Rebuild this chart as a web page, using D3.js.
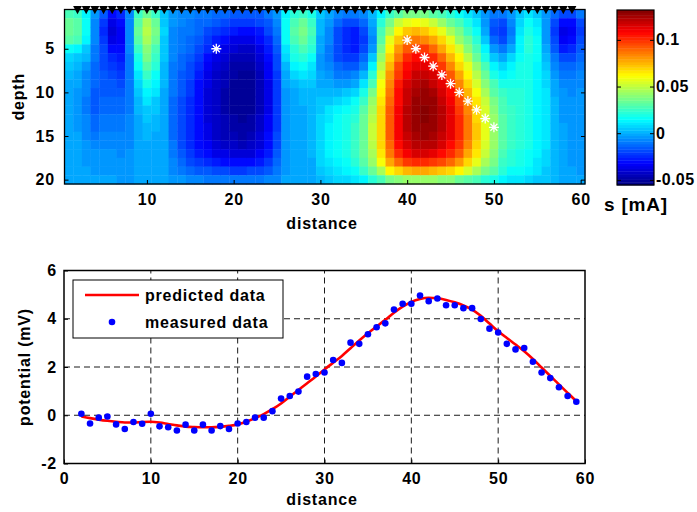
<!DOCTYPE html>
<html>
<head>
<meta charset="utf-8">
<script src="https://cdn.jsdelivr.net/npm/d3@7"></script>
<style>
  body { margin: 0; background: #fff; }
  text { font-family: "Liberation Sans", Arial, Helvetica, sans-serif; font-weight: bold; fill: #000; letter-spacing: 0.8px; }
</style>
</head>
<body>
<svg id="chart" width="697" height="512"></svg>
<script>
// ---- inverted source model: s [mA] on a 60 x 20 grid (one array per distance column, depth 1..20) ----
const cellDistances = d3.range(1, 61);
const cellDepths = d3.range(1, 21);
const sByColumn = [
  [0.028,0.033,0.034,0.032,0.016,0.008,0.004,0.001,0.0,-0.001,-0.001,-0.002,-0.002,-0.002,-0.002,-0.001,-0.001,0.0,0.0,0.0],
  [0.026,0.031,0.032,0.029,0.014,0.006,0.002,0.0,-0.002,-0.003,-0.003,-0.003,-0.003,-0.003,-0.002,-0.002,-0.001,-0.001,0.0,0.0],
  [0.012,0.016,0.017,0.014,0.006,0.001,-0.003,-0.006,-0.008,-0.008,-0.009,-0.009,-0.008,-0.007,-0.006,-0.005,-0.004,-0.003,-0.002,-0.002],
  [-0.004,-0.006,-0.007,-0.008,-0.01,-0.011,-0.012,-0.013,-0.014,-0.015,-0.015,-0.015,-0.014,-0.012,-0.009,-0.007,-0.005,-0.004,-0.003,-0.002],
  [-0.016,-0.022,-0.024,-0.023,-0.02,-0.019,-0.018,-0.017,-0.016,-0.015,-0.013,-0.012,-0.011,-0.01,-0.008,-0.007,-0.005,-0.004,-0.003,-0.002],
  [-0.03,-0.037,-0.038,-0.036,-0.03,-0.026,-0.022,-0.019,-0.017,-0.015,-0.013,-0.012,-0.011,-0.01,-0.008,-0.007,-0.005,-0.004,-0.003,-0.002],
  [-0.026,-0.032,-0.034,-0.033,-0.03,-0.027,-0.024,-0.021,-0.018,-0.016,-0.014,-0.012,-0.011,-0.01,-0.008,-0.007,-0.006,-0.005,-0.004,-0.003],
  [-0.006,-0.007,-0.006,-0.006,-0.008,-0.009,-0.01,-0.01,-0.01,-0.01,-0.009,-0.009,-0.008,-0.008,-0.007,-0.006,-0.005,-0.004,-0.003,-0.003],
  [0.024,0.032,0.034,0.031,0.025,0.02,0.016,0.011,0.007,0.004,0.002,0.001,0.0,-0.001,-0.001,-0.001,-0.001,-0.001,-0.001,-0.001],
  [0.034,0.046,0.049,0.047,0.041,0.036,0.03,0.025,0.019,0.014,0.009,0.006,0.004,0.002,0.001,0.0,0.0,0.0,0.0,0.0],
  [0.026,0.034,0.036,0.034,0.029,0.025,0.021,0.017,0.013,0.009,0.006,0.004,0.002,0.001,0.0,0.0,0.0,0.0,0.0,0.0],
  [0.004,0.006,0.007,0.006,0.005,0.004,0.003,0.002,0.001,0.0,-0.001,-0.001,-0.002,-0.002,-0.002,-0.002,-0.002,-0.002,-0.001,-0.001],
  [-0.004,-0.005,-0.006,-0.006,-0.007,-0.008,-0.009,-0.01,-0.011,-0.011,-0.012,-0.012,-0.012,-0.012,-0.012,-0.011,-0.01,-0.008,-0.006,-0.004],
  [-0.006,-0.008,-0.009,-0.01,-0.011,-0.012,-0.013,-0.015,-0.016,-0.017,-0.018,-0.018,-0.019,-0.019,-0.019,-0.018,-0.016,-0.013,-0.009,-0.005],
  [-0.008,-0.01,-0.011,-0.012,-0.014,-0.016,-0.018,-0.02,-0.022,-0.023,-0.024,-0.025,-0.025,-0.025,-0.025,-0.024,-0.022,-0.018,-0.012,-0.006],
  [-0.01,-0.012,-0.014,-0.017,-0.02,-0.023,-0.026,-0.028,-0.03,-0.031,-0.032,-0.032,-0.032,-0.032,-0.031,-0.03,-0.027,-0.022,-0.015,-0.008],
  [-0.011,-0.014,-0.018,-0.022,-0.026,-0.03,-0.033,-0.035,-0.037,-0.038,-0.038,-0.038,-0.038,-0.037,-0.036,-0.034,-0.031,-0.025,-0.017,-0.009],
  [-0.012,-0.016,-0.022,-0.027,-0.032,-0.036,-0.039,-0.041,-0.042,-0.043,-0.043,-0.043,-0.043,-0.042,-0.041,-0.039,-0.035,-0.028,-0.019,-0.01],
  [-0.014,-0.019,-0.026,-0.032,-0.036,-0.04,-0.043,-0.045,-0.046,-0.047,-0.047,-0.047,-0.046,-0.045,-0.044,-0.041,-0.037,-0.03,-0.02,-0.011],
  [-0.016,-0.021,-0.029,-0.035,-0.04,-0.044,-0.047,-0.049,-0.05,-0.05,-0.05,-0.05,-0.049,-0.048,-0.046,-0.043,-0.038,-0.031,-0.021,-0.011],
  [-0.017,-0.022,-0.03,-0.037,-0.042,-0.046,-0.049,-0.051,-0.052,-0.052,-0.052,-0.051,-0.05,-0.049,-0.047,-0.044,-0.039,-0.031,-0.021,-0.011],
  [-0.017,-0.022,-0.03,-0.036,-0.041,-0.045,-0.048,-0.05,-0.051,-0.051,-0.051,-0.05,-0.049,-0.048,-0.046,-0.043,-0.038,-0.03,-0.02,-0.011],
  [-0.015,-0.02,-0.027,-0.032,-0.036,-0.039,-0.042,-0.044,-0.045,-0.045,-0.045,-0.044,-0.043,-0.042,-0.04,-0.038,-0.034,-0.027,-0.018,-0.01],
  [-0.011,-0.015,-0.02,-0.025,-0.028,-0.031,-0.033,-0.034,-0.035,-0.035,-0.035,-0.035,-0.034,-0.033,-0.032,-0.03,-0.027,-0.022,-0.015,-0.008],
  [-0.003,-0.006,-0.01,-0.014,-0.017,-0.019,-0.02,-0.021,-0.022,-0.022,-0.022,-0.022,-0.022,-0.021,-0.02,-0.019,-0.017,-0.014,-0.01,-0.006],
  [0.012,0.016,0.017,0.015,0.011,0.007,0.003,0.0,-0.002,-0.004,-0.005,-0.005,-0.005,-0.005,-0.005,-0.005,-0.004,-0.004,-0.003,-0.002],
  [0.022,0.028,0.03,0.028,0.023,0.018,0.012,0.007,0.003,0.0,-0.001,-0.002,-0.002,-0.002,-0.002,-0.002,-0.002,-0.002,-0.001,-0.001],
  [0.026,0.034,0.036,0.034,0.028,0.022,0.016,0.01,0.006,0.003,0.001,0.0,0.0,0.0,0.0,0.0,0.0,0.0,0.0,0.0],
  [0.02,0.026,0.028,0.026,0.021,0.016,0.011,0.007,0.004,0.002,0.001,0.001,0.001,0.001,0.001,0.001,0.001,0.0,0.0,0.0],
  [0.004,0.003,0.002,0.0,-0.002,-0.003,-0.003,-0.002,0.0,0.002,0.004,0.006,0.007,0.008,0.008,0.008,0.008,0.007,0.005,0.003],
  [0.0,-0.003,-0.006,-0.008,-0.009,-0.009,-0.008,-0.005,-0.002,0.002,0.006,0.009,0.011,0.012,0.012,0.012,0.012,0.011,0.008,0.005],
  [-0.008,-0.013,-0.018,-0.02,-0.02,-0.018,-0.014,-0.009,-0.003,0.003,0.008,0.012,0.015,0.016,0.017,0.017,0.016,0.014,0.011,0.007],
  [-0.01,-0.018,-0.024,-0.026,-0.025,-0.021,-0.016,-0.01,-0.003,0.004,0.01,0.015,0.018,0.019,0.02,0.02,0.019,0.017,0.013,0.008],
  [-0.01,-0.02,-0.027,-0.029,-0.027,-0.022,-0.016,-0.008,0.0,0.008,0.015,0.02,0.023,0.024,0.025,0.025,0.024,0.022,0.017,0.01],
  [-0.006,-0.013,-0.019,-0.021,-0.019,-0.013,-0.006,0.003,0.011,0.019,0.026,0.031,0.033,0.034,0.034,0.034,0.033,0.03,0.024,0.014],
  [0.002,-0.002,-0.005,-0.006,-0.003,0.004,0.012,0.021,0.029,0.037,0.043,0.047,0.049,0.05,0.05,0.049,0.047,0.043,0.035,0.021],
  [0.014,0.022,0.027,0.032,0.037,0.042,0.048,0.054,0.059,0.063,0.066,0.068,0.069,0.069,0.069,0.068,0.065,0.059,0.047,0.028],
  [0.024,0.038,0.047,0.056,0.063,0.07,0.076,0.081,0.085,0.088,0.09,0.091,0.092,0.092,0.092,0.09,0.086,0.077,0.062,0.036],
  [0.032,0.05,0.063,0.073,0.081,0.088,0.094,0.099,0.103,0.106,0.108,0.109,0.11,0.11,0.109,0.107,0.101,0.09,0.07,0.04],
  [0.037,0.057,0.071,0.083,0.093,0.1,0.106,0.111,0.115,0.118,0.12,0.121,0.121,0.121,0.12,0.117,0.11,0.097,0.075,0.043],
  [0.038,0.059,0.075,0.088,0.098,0.106,0.113,0.118,0.122,0.125,0.127,0.128,0.128,0.128,0.126,0.122,0.115,0.1,0.077,0.044],
  [0.036,0.056,0.072,0.085,0.097,0.106,0.113,0.119,0.124,0.127,0.129,0.13,0.13,0.129,0.127,0.123,0.115,0.1,0.077,0.044],
  [0.032,0.05,0.065,0.078,0.09,0.1,0.108,0.115,0.12,0.124,0.127,0.128,0.128,0.127,0.125,0.121,0.113,0.099,0.076,0.043],
  [0.027,0.043,0.056,0.068,0.079,0.089,0.098,0.106,0.112,0.117,0.12,0.122,0.123,0.122,0.12,0.116,0.108,0.095,0.073,0.041],
  [0.022,0.035,0.046,0.056,0.066,0.076,0.085,0.093,0.1,0.106,0.11,0.113,0.114,0.114,0.112,0.108,0.101,0.089,0.069,0.039],
  [0.016,0.027,0.036,0.044,0.053,0.062,0.07,0.078,0.085,0.091,0.096,0.099,0.1,0.101,0.1,0.097,0.091,0.08,0.062,0.035],
  [0.011,0.019,0.026,0.033,0.04,0.048,0.056,0.063,0.07,0.076,0.081,0.084,0.086,0.087,0.086,0.084,0.079,0.07,0.055,0.031],
  [0.005,0.01,0.015,0.021,0.028,0.035,0.042,0.049,0.055,0.061,0.065,0.068,0.07,0.071,0.071,0.069,0.065,0.058,0.046,0.027],
  [-0.004,-0.004,-0.002,0.004,0.012,0.02,0.027,0.034,0.04,0.046,0.05,0.053,0.055,0.056,0.056,0.055,0.052,0.047,0.038,0.022],
  [-0.01,-0.016,-0.018,-0.014,-0.005,0.004,0.012,0.02,0.027,0.032,0.037,0.04,0.042,0.043,0.043,0.042,0.04,0.036,0.03,0.018],
  [-0.01,-0.018,-0.021,-0.018,-0.009,0.0,0.008,0.014,0.02,0.024,0.027,0.029,0.03,0.031,0.031,0.03,0.029,0.026,0.022,0.013],
  [-0.003,-0.008,-0.01,-0.007,0.0,0.007,0.012,0.016,0.019,0.021,0.023,0.024,0.025,0.025,0.025,0.024,0.023,0.021,0.017,0.01],
  [0.005,0.008,0.01,0.012,0.014,0.016,0.018,0.019,0.02,0.021,0.022,0.022,0.022,0.022,0.022,0.021,0.02,0.018,0.015,0.009],
  [0.01,0.015,0.019,0.021,0.021,0.02,0.02,0.019,0.019,0.019,0.019,0.019,0.019,0.019,0.018,0.018,0.017,0.015,0.012,0.008],
  [0.006,0.01,0.013,0.015,0.015,0.015,0.014,0.014,0.013,0.013,0.013,0.013,0.013,0.013,0.013,0.012,0.012,0.011,0.009,0.006],
  [-0.004,-0.005,-0.005,-0.003,0.0,0.003,0.005,0.007,0.008,0.009,0.009,0.009,0.009,0.009,0.009,0.009,0.008,0.007,0.006,0.004],
  [-0.014,-0.019,-0.021,-0.02,-0.016,-0.011,-0.007,-0.004,-0.002,0.0,0.001,0.001,0.002,0.002,0.002,0.002,0.002,0.002,0.001,0.001],
  [-0.02,-0.032,-0.036,-0.034,-0.027,-0.02,-0.014,-0.01,-0.007,-0.005,-0.004,-0.003,-0.003,-0.002,-0.002,-0.002,-0.002,-0.002,-0.002,-0.001],
  [-0.019,-0.03,-0.033,-0.031,-0.025,-0.019,-0.014,-0.01,-0.008,-0.006,-0.005,-0.004,-0.004,-0.003,-0.003,-0.003,-0.003,-0.003,-0.002,-0.002],
  [-0.011,-0.018,-0.021,-0.02,-0.016,-0.012,-0.009,-0.007,-0.006,-0.005,-0.005,-0.004,-0.004,-0.004,-0.004,-0.003,-0.003,-0.003,-0.003,-0.002]
];
const colorLimits = [-0.0555, 0.132];

// electrodes along the surface and the recovered source locations
const electrodeX = d3.range(2, 60);
const sourceX = [18, 40, 41, 42, 43, 44, 45, 46, 47, 48, 49, 50];
const sourceDepth = [5, 4, 5, 6, 7, 8, 9, 10, 11, 12, 13, 14];

// ---- self-potential profile ----
const profileX = [2,3,4,5,6,7,8,9,10,11,12,13,14,15,16,17,18,19,20,21,22,23,24,25,26,27,28,29,30,31,
  32,33,34,35,36,37,38,39,40,41,42,43,44,45,46,47,48,49,50,51,52,53,54,55,56,57,58,59];
const measuredV = [0.06,-0.34,-0.10,-0.05,-0.38,-0.57,-0.28,-0.35,0.06,-0.46,-0.50,-0.63,-0.39,-0.63,-0.39,
  -0.63,-0.45,-0.57,-0.34,-0.28,-0.10,-0.10,0.17,0.69,0.80,0.98,1.60,1.71,1.77,2.29,2.17,3.01,2.96,3.36,
  3.65,3.81,4.38,4.62,4.62,4.96,4.73,4.84,4.56,4.56,4.44,4.44,3.99,3.59,3.43,2.96,2.73,2.79,2.22,1.77,
  1.54,1.16,0.80,0.56];
const predictedV = [-0.05,-0.12,-0.18,-0.23,-0.27,-0.30,-0.30,-0.28,-0.27,-0.30,-0.36,-0.42,-0.47,-0.49,
  -0.50,-0.50,-0.48,-0.44,-0.38,-0.27,-0.12,0.05,0.25,0.49,0.77,1.05,1.33,1.61,1.90,2.18,2.46,2.78,3.10,
  3.40,3.68,3.96,4.25,4.50,4.70,4.82,4.87,4.85,4.78,4.68,4.55,4.38,4.12,3.80,3.48,3.20,2.93,2.65,2.33,
  1.98,1.63,1.28,0.93,0.58];

// tick labels
const mapXTicks = [10, 20, 30, 40, 50, 60];
const depthTicks = [5, 10, 15, 20];
const colorTicks = [-0.05, 0, 0.05, 0.1];
const profileXTicks = [0, 10, 20, 30, 40, 50, 60];
const profileYTicks = [-2, 0, 2, 4, 6];

// ---- helpers ----
const clamp01 = v => Math.max(0, Math.min(1, v));
function jet(t) {
  const r = clamp01(1.5 - Math.abs(4 * t - 3));
  const g = clamp01(1.5 - Math.abs(4 * t - 2));
  const b = clamp01(1.5 - Math.abs(4 * t - 1));
  return d3.rgb(r * 255, g * 255, b * 255).formatHex();
}
const nColors = 64;
const colorT = d3.scaleLinear().domain(colorLimits).range([0, 1]).clamp(true);
const colorOf = v => {
  const k = Math.min(nColors - 1, Math.floor(colorT(v) * nColors));
  return jet((k + 0.5) / nColors);
};
// plain hyphen-minus for negative tick labels
const plainNumber = d => String(d);

const svg = d3.select("#chart");

// ================= source map =================
const mx = d3.scaleLinear().domain([0.5, 60.5]).range([64.5, 585]);
const my = d3.scaleLinear().domain([0.5, 20.5]).range([9.5, 184]);

const cells = [];
sByColumn.forEach((col, i) => col.forEach((v, j) => cells.push({ x: cellDistances[i], z: cellDepths[j], v })));

const map = svg.append("g");
map.selectAll("rect.cell").data(cells).join("rect")
  .attr("class", "cell")
  .attr("x", d => mx(d.x - 0.5))
  .attr("y", d => my(d.z - 0.5))
  .attr("width", d => mx(d.x + 0.5) - mx(d.x - 0.5) + 0.4)
  .attr("height", d => my(d.z + 0.5) - my(d.z - 0.5) + 0.4)
  .attr("fill", d => colorOf(d.v));

// axes of the map (inward ticks)
function styleAxis(g, size) {
  g.select(".domain").remove();
  g.selectAll(".tick line").attr("stroke", "#000").attr("stroke-width", 1);
  g.selectAll(".tick text").style("font-size", size + "px").attr("fill", "#000");
}
map.append("g").attr("transform", `translate(0,${my(20.5)})`)
  .call(d3.axisBottom(mx).tickValues(mapXTicks).tickSize(-4).tickPadding(9.5).tickFormat(plainNumber))
  .call(g => styleAxis(g, 16));
map.append("g").attr("transform", `translate(${mx(0.5)},0)`)
  .call(d3.axisLeft(my).tickValues(depthTicks).tickSize(-4).tickPadding(9.5).tickFormat(plainNumber))
  .call(g => styleAxis(g, 16));
map.append("g").attr("transform", `translate(${mx(60.5)},0)`)
  .call(d3.axisRight(my).tickValues(depthTicks).tickSize(-4).tickFormat(""))
  .call(g => styleAxis(g, 16));
map.append("rect")
  .attr("x", mx(0.5)).attr("y", my(0.5))
  .attr("width", mx(60.5) - mx(0.5)).attr("height", my(20.5) - my(0.5))
  .attr("fill", "none").attr("stroke", "#000").attr("stroke-width", 1.3);

// electrodes (downward triangles along the top edge)
map.selectAll("path.electrode").data(electrodeX).join("path")
  .attr("class", "electrode")
  .attr("transform", d => `translate(${mx(d)},${my(0.5) + 0.3})`)
  .attr("d", "M-4.4,-3.8L4.4,-3.8L0,4.4Z")
  .attr("fill", "#000");

// recovered sources (white asterisks)
const star = "M-5,0H5M0,-5V5M-3.5,-3.5L3.5,3.5M-3.5,3.5L3.5,-3.5";
map.selectAll("path.source").data(sourceX.map((x, i) => ({ x, z: sourceDepth[i] }))).join("path")
  .attr("class", "source")
  .attr("transform", d => `translate(${mx(d.x)},${my(d.z)})`)
  .attr("d", star)
  .attr("fill", "none").attr("stroke", "#fff").attr("stroke-width", 1.3);

map.append("text").attr("x", 322).attr("y", 229).attr("text-anchor", "middle")
  .style("font-size", "16px").text("distance");
map.append("text").attr("transform", `translate(24,${my(10.5)}) rotate(-90)`)
  .attr("text-anchor", "middle").style("font-size", "16px").text("depth");

// ---- colour bar ----
const cb = svg.append("g");
const cy = d3.scaleLinear().domain(colorLimits).range([185, 10]);
const bands = d3.range(nColors);
const bandH = (cy(colorLimits[0]) - cy(colorLimits[1])) / nColors;
cb.selectAll("rect.band").data(bands).join("rect")
  .attr("class", "band")
  .attr("x", 617).attr("width", 37)
  .attr("y", k => cy(colorLimits[0]) - (k + 1) * bandH)
  .attr("height", bandH + 0.4)
  .attr("fill", k => jet((k + 0.5) / nColors));
cb.append("g").attr("transform", "translate(654,0)")
  .call(d3.axisRight(cy).tickValues(colorTicks).tickSize(-4).tickPadding(2).tickFormat(plainNumber))
  .call(g => styleAxis(g, 16))
  .call(g => g.selectAll(".tick text").style("letter-spacing", "0.4px"));
cb.append("g").attr("transform", "translate(617,0)")
  .call(d3.axisLeft(cy).tickValues(colorTicks).tickSize(-4).tickFormat(""))
  .call(g => styleAxis(g, 16));
cb.append("rect").attr("x", 617).attr("y", 10).attr("width", 37).attr("height", 175)
  .attr("fill", "none").attr("stroke", "#000").attr("stroke-width", 1.2);
cb.append("text").attr("x", 604).attr("y", 211).style("font-size", "19px").text("s [mA]");

// ================= potential profile =================
const px = d3.scaleLinear().domain([0, 60]).range([64, 585]);
const py = d3.scaleLinear().domain([-2, 6]).range([463.5, 270.5]);
const prof = svg.append("g");

// dashed grid
prof.selectAll("line.gx").data(profileXTicks.filter(t => t > 0 && t < 60)).join("line")
  .attr("class", "gx").attr("x1", d => px(d)).attr("x2", d => px(d))
  .attr("y1", py(-2)).attr("y2", py(6))
  .attr("stroke", "#000").attr("stroke-width", 0.9).attr("stroke-dasharray", "6,4");
prof.selectAll("line.gy").data(profileYTicks.filter(t => t > -2 && t < 6)).join("line")
  .attr("class", "gy").attr("y1", d => py(d)).attr("y2", d => py(d))
  .attr("x1", px(0)).attr("x2", px(60))
  .attr("stroke", "#000").attr("stroke-width", 0.9).attr("stroke-dasharray", "6,4");

prof.append("g").attr("transform", `translate(0,${py(-2)})`)
  .call(d3.axisBottom(px).tickValues(profileXTicks).tickSize(-4).tickPadding(9).tickFormat(plainNumber))
  .call(g => styleAxis(g, 16));
prof.append("g").attr("transform", `translate(${px(0)},0)`)
  .call(d3.axisLeft(py).tickValues(profileYTicks).tickSize(-4).tickPadding(7).tickFormat(plainNumber))
  .call(g => styleAxis(g, 16));
prof.append("rect").attr("x", px(0)).attr("y", py(6))
  .attr("width", px(60) - px(0)).attr("height", py(-2) - py(6))
  .attr("fill", "none").attr("stroke", "#000").attr("stroke-width", 1.5);

// predicted curve
const line = d3.line().x((d, i) => px(profileX[i])).y(d => py(d)).curve(d3.curveMonotoneX);
prof.append("path").datum(predictedV)
  .attr("d", line).attr("fill", "none").attr("stroke", "#ff0000").attr("stroke-width", 2.6);

// measured points
prof.selectAll("circle.meas").data(measuredV).join("circle")
  .attr("class", "meas")
  .attr("cx", (d, i) => px(profileX[i])).attr("cy", d => py(d))
  .attr("r", 3.3).attr("fill", "#0000ff");

prof.append("text").attr("x", 322).attr("y", 505).attr("text-anchor", "middle")
  .style("font-size", "16px").text("distance");
prof.append("text").attr("transform", `translate(30,${py(2)}) rotate(-90)`)
  .attr("text-anchor", "middle").style("font-size", "16px").text("potential (mV)");

// legend
const lg = prof.append("g");
lg.append("rect").attr("x", 73).attr("y", 280).attr("width", 210).attr("height", 58)
  .attr("fill", "#fff").attr("stroke", "#000").attr("stroke-width", 1);
lg.append("line").attr("x1", 85).attr("x2", 139).attr("y1", 295).attr("y2", 295)
  .attr("stroke", "#ff0000").attr("stroke-width", 2.6);
lg.append("text").attr("x", 145).attr("y", 301).style("font-size", "16px").text("predicted data");
lg.append("circle").attr("cx", 112).attr("cy", 322).attr("r", 3.3).attr("fill", "#0000ff");
lg.append("text").attr("x", 145).attr("y", 328).style("font-size", "16px").text("measured data");
</script>
</body>
</html>
